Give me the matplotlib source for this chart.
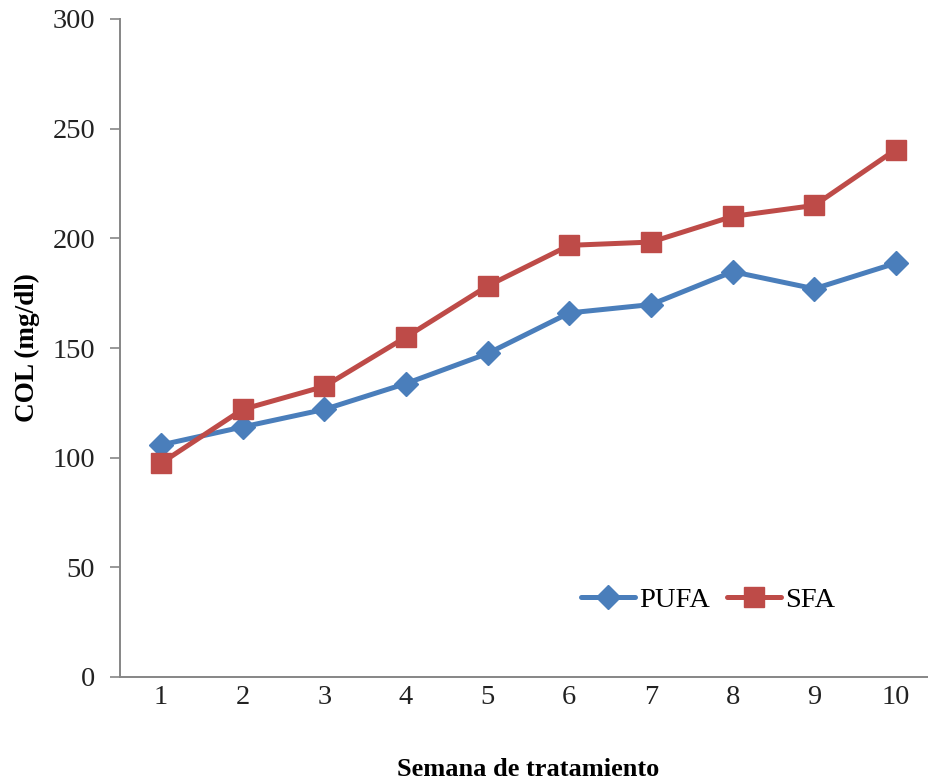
import matplotlib.pyplot as plt

# DATA
semanas = [1, 2, 3, 4, 5, 6, 7, 8, 9, 10]
pufa = [105.8, 114, 122, 133.8, 147.5, 166, 169.8, 184.8, 177, 188.7]
sfa = [97.5, 122, 132.5, 155, 178.3, 196.8, 198.3, 210, 215, 240.5]
y_ticks = [0, 50, 100, 150, 200, 250, 300]

plt.rcParams['font.family'] = ['Liberation Serif', 'DejaVu Serif']

fig = plt.figure(figsize=(9.29, 7.8), dpi=100)
ax = fig.add_axes([120.2/929, 1-677/780, 816.6/929, 658/780])

ax.plot(semanas, pufa, color='#4a7ebb', lw=3.6, marker='D', ms=12,
        label='PUFA', solid_capstyle='round')
ax.plot(semanas, sfa, color='#be4b48', lw=3.6, marker='s', ms=14,
        label='SFA', solid_capstyle='round')

ax.set_xlim(0.5, 10.5)
ax.set_ylim(0, 300)
ax.set_xticks(semanas)
ax.set_yticks(y_ticks)
ax.tick_params(axis='x', length=0, pad=6, labelsize=20.5, colors='#222222')
ax.tick_params(axis='y', length=7, width=1.2, color='#868686', pad=11,
               labelsize=20.5, labelcolor='#222222')

for s in ['top', 'right']:
    ax.spines[s].set_visible(False)
for s in ['left', 'bottom']:
    ax.spines[s].set_color('#868686')
    ax.spines[s].set_linewidth(1.4)

ax.set_ylabel('COL (mg/dl)', fontsize=19.5, fontweight='bold', labelpad=9)
ax.set_xlabel('Semana de tratamiento', fontsize=19, fontweight='bold', labelpad=34)

ax.legend(loc='center', bbox_to_anchor=(0.72, 0.117),
          ncol=2, frameon=False, fontsize=20.5, handlelength=1.9,
          handletextpad=0.15, columnspacing=0.6)

fig.savefig('out.png', dpi=100)
